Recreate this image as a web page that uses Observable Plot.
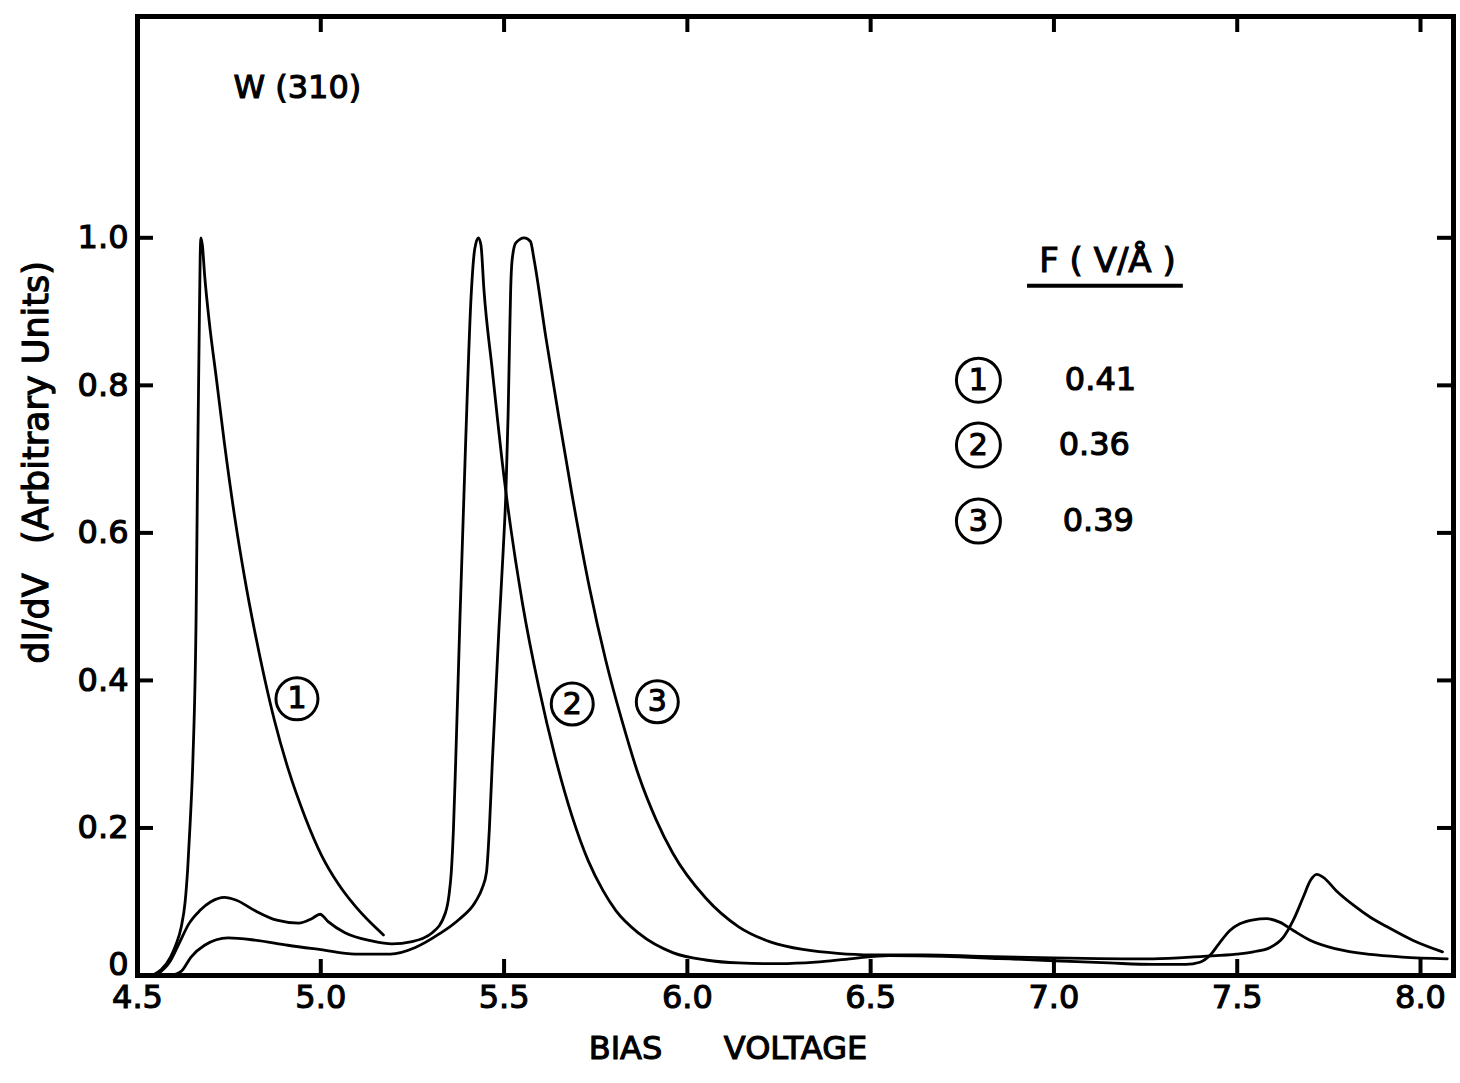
<!DOCTYPE html>
<html><head><meta charset="utf-8">
<script src="https://cdn.jsdelivr.net/npm/d3@7"></script>
<script src="https://cdn.jsdelivr.net/npm/@observablehq/plot@0.6"></script>
<style>
html,body{margin:0;padding:0;background:#fff;}
svg text{white-space:pre;stroke:#000;stroke-width:1.1px;paint-order:stroke;}
</style></head><body><div id="chart"></div>
<script>
// Curve 1: F = 0.41 V/Å
const curve1V = [4.54, 4.565, 4.59, 4.605, 4.619, 4.63, 4.637, 4.644, 4.651, 4.66, 4.664, 4.668, 4.671, 4.673, 4.677, 4.683, 4.696, 4.715, 4.737, 4.765, 4.792, 4.82, 4.847, 4.874, 4.911, 4.957, 5.002, 5.048, 5.094, 5.139, 5.171];
const curve1Y = [0, 0.008, 0.025, 0.042, 0.065, 0.1, 0.145, 0.21, 0.291, 0.491, 0.691, 0.858, 0.975, 1.0, 0.99, 0.95, 0.885, 0.81, 0.722, 0.622, 0.54, 0.466, 0.402, 0.345, 0.28, 0.215, 0.163, 0.124, 0.094, 0.07, 0.055];

// Curve 2: F = 0.36 V/Å
const curve2V = [4.55, 4.59, 4.615, 4.64, 4.67, 4.70, 4.737, 4.77, 4.82, 4.88, 4.94, 4.975, 4.998, 5.02, 5.066, 5.139, 5.194, 5.249, 5.304, 5.34, 5.35, 5.356, 5.362, 5.368, 5.38, 5.395, 5.41, 5.42, 5.43, 5.437, 5.445, 5.468, 5.5, 5.509, 5.55, 5.595, 5.64, 5.686, 5.73, 5.77, 5.805, 5.868, 5.96, 6.05, 6.14, 6.25, 6.35, 6.45, 6.55, 6.7, 6.85, 7.0, 7.15, 7.27, 7.36, 7.398, 7.425, 7.45, 7.48, 7.507, 7.544, 7.58, 7.617, 7.653, 7.7, 7.77, 7.863, 7.95, 8.073];
const curve2Y = [0, 0.02, 0.045, 0.07, 0.088, 0.1, 0.106, 0.102, 0.088, 0.075, 0.071, 0.077, 0.083, 0.073, 0.058, 0.047, 0.043, 0.046, 0.058, 0.085, 0.11, 0.14, 0.2, 0.29, 0.49, 0.72, 0.92, 0.985, 1.0, 0.99, 0.93, 0.82, 0.675, 0.64, 0.505, 0.39, 0.295, 0.215, 0.155, 0.115, 0.088, 0.057, 0.031, 0.021, 0.017, 0.016, 0.018, 0.023, 0.027, 0.026, 0.023, 0.02, 0.017, 0.015, 0.015, 0.018, 0.027, 0.043, 0.061, 0.07, 0.0755, 0.077, 0.072, 0.061, 0.0475, 0.036, 0.0285, 0.025, 0.0226];

// Curve 3: F = 0.39 V/Å
const curve3V = [4.59, 4.62, 4.646, 4.683, 4.747, 4.82, 4.91, 5.0, 5.094, 5.19, 5.258, 5.322, 5.377, 5.422, 5.44, 5.452, 5.46, 5.468, 5.486, 5.498, 5.505, 5.511, 5.515, 5.518, 5.522, 5.532, 5.555, 5.572, 5.582, 5.614, 5.65, 5.686, 5.732, 5.777, 5.823, 5.868, 5.914, 5.96, 6.05, 6.14, 6.23, 6.32, 6.41, 6.5, 6.65, 6.8, 7.0, 7.27, 7.407, 7.498, 7.544, 7.59, 7.626, 7.653, 7.68, 7.70, 7.717, 7.735, 7.77, 7.818, 7.863, 7.909, 7.98, 8.06];
const curve3Y = [0, 0.006, 0.025, 0.041, 0.051, 0.048, 0.041, 0.035, 0.029, 0.029, 0.038, 0.056, 0.076, 0.1, 0.118, 0.14, 0.2, 0.29, 0.47, 0.58, 0.655, 0.76, 0.86, 0.93, 0.97, 0.993, 1.0, 0.995, 0.97, 0.865, 0.755, 0.65, 0.528, 0.428, 0.343, 0.27, 0.212, 0.166, 0.105, 0.066, 0.045, 0.035, 0.03, 0.028, 0.028, 0.026, 0.024, 0.0226, 0.026, 0.029, 0.032, 0.038, 0.052, 0.075, 0.106, 0.129, 0.137, 0.133, 0.115, 0.095, 0.079, 0.066, 0.0475, 0.032];

// Legend: curve numbers and field strengths
const seriesNumbers = ["1", "2", "3"];
const fieldValues = ["0.41", "0.36", "0.39"];

// Tick values
const xTickLabels = [4.5, 5.0, 5.5, 6.0, 6.5, 7.0, 7.5, 8.0];
const xTickMarks = [5.0, 5.5, 6.0, 6.5, 7.0, 7.5, 8.0];
const yTickLabels = [0.2, 0.4, 0.6, 0.8, 1.0];
const yTickMarks = [0.2, 0.4, 0.6, 0.8, 1.0];

// Annotation anchor positions (data coordinates)
const curveLabelV = [4.935, 5.686, 5.918];
const curveLabelY = [0.375, 0.368, 0.371];
const legendCircleV = [6.794, 6.794, 6.794];
const legendTextV = [7.127, 7.110, 7.121];
const legendRowY = [0.807, 0.719, 0.616];

const table = [
  ...curve1V.map((v, i) => ({v, y: curve1Y[i], s: "1"})),
  ...curve2V.map((v, i) => ({v, y: curve2Y[i], s: "2"})),
  ...curve3V.map((v, i) => ({v, y: curve3Y[i], s: "3"}))
];
const curveLabels = seriesNumbers.map((s, i) => ({s, v: curveLabelV[i], y: curveLabelY[i]}));
const legendRows = seriesNumbers.map((s, i) => ({s, f: fieldValues[i], cv: legendCircleV[i], tv: legendTextV[i], y: legendRowY[i]}));

const W = 1460, H = 1083, mL = 137, mR = 7, mT = 16, mB = 108;
const fw = W - mL - mR, fh = H - mT - mB, tl = 16;
const font = "'DejaVu Sans', 'Liberation Sans', sans-serif";

const plot = Plot.plot({
  width: W, height: H,
  marginLeft: mL, marginRight: mR, marginTop: mT, marginBottom: mB,
  x: {domain: [4.5, 8.09]},
  y: {domain: [0, 1.3]},
  style: {fontFamily: font, color: "black", background: "white"},
  marks: [
    Plot.line(table, {x: "v", y: "y", z: "s", stroke: "black", strokeWidth: 2.8, curve: "monotone-x"}),
    // inward ticks
    Plot.tickX(xTickMarks, {x: d => d, insetTop: fh - tl, stroke: "black", strokeWidth: 4}),
    Plot.tickX(xTickMarks, {x: d => d, insetBottom: fh - tl, stroke: "black", strokeWidth: 4}),
    Plot.tickY(yTickMarks, {y: d => d, insetRight: fw - tl, stroke: "black", strokeWidth: 4}),
    Plot.tickY(yTickMarks, {y: d => d, insetLeft: fw - tl, stroke: "black", strokeWidth: 4}),
    Plot.frame({stroke: "black", strokeWidth: 5}),
    // tick labels
    Plot.axisX({ticks: xTickLabels, anchor: "bottom", tickSize: 0, tickPadding: 10, fontSize: 32, tickFormat: d => d.toFixed(1), label: null}),
    Plot.axisY({ticks: yTickLabels, anchor: "left", tickSize: 0, tickPadding: 9, fontSize: 32, tickFormat: d => d.toFixed(1), label: null}),
    Plot.axisY({ticks: [0], anchor: "left", tickSize: 0, tickPadding: 9, fontSize: 32, tickFormat: d => "0", label: null, dy: -11}),
    // axis titles
    Plot.text(["BIAS"], {frameAnchor: "bottom", textAnchor: "middle", dx: 625 - (mL + fw / 2), dy: 83, fontSize: 32}),
    Plot.text(["VOLTAGE"], {frameAnchor: "bottom", textAnchor: "middle", dx: 795 - (mL + fw / 2), dy: 83, fontSize: 32}),
    Plot.text(["(Arbitrary Units)"], {frameAnchor: "left", textAnchor: "middle", dx: 36 - mL, dy: 402 - (mT + fh / 2), rotate: -90, fontSize: 35}),
    Plot.text(["dI/dV"], {frameAnchor: "left", textAnchor: "middle", dx: 36 - mL, dy: 618 - (mT + fh / 2), rotate: -90, fontSize: 35}),
    // title
    Plot.text(["W (310)"], {x: 4.936, y: 1.203, fontSize: 32}),
    // curve labels
    Plot.dot(curveLabels, {x: "v", y: "y", r: 21, stroke: "black", strokeWidth: 3, fill: "none"}),
    Plot.text(curveLabels, {x: "v", y: "y", text: "s", fontSize: 30}),
    // legend
    Plot.text(["F ( V/Å )"], {x: 7.146, y: 0.968, fontSize: 34}),
    Plot.ruleY([0.935], {x1: 6.928, x2: 7.353, stroke: "black", strokeWidth: 4}),
    Plot.dot(legendRows, {x: "cv", y: "y", r: 22, stroke: "black", strokeWidth: 3, fill: "none"}),
    Plot.text(legendRows, {x: "cv", y: "y", text: "s", fontSize: 30}),
    Plot.text(legendRows, {x: "tv", y: "y", text: "f", fontSize: 32})
  ]
});
document.getElementById("chart").appendChild(plot);
</script>
</body></html>
